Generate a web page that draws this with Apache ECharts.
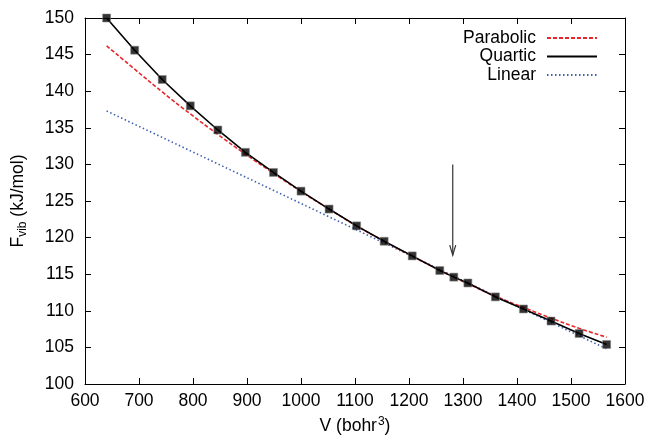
<!DOCTYPE html>
<html>
<head>
<meta charset="utf-8">
<script src="https://cdn.jsdelivr.net/npm/echarts@6/dist/echarts.min.js"></script>
<style>html,body{margin:0;padding:0;background:#fff}#c{width:650px;height:443px}</style>
</head>
<body>
<div id="c"></div>
<script>
// Data
const volumes = [640, 692, 743, 795, 846, 897, 949, 1000, 1052, 1103, 1154, 1206, 1257, 1283, 1309, 1360, 1412, 1463, 1515, 1566];
const quartic = [150.0, 145.6, 141.6, 138.0, 134.7, 131.65, 128.9, 126.35, 123.9, 121.6, 119.5, 117.5, 115.5, 114.6, 113.8, 111.9, 110.25, 108.6, 106.9, 105.4];
const parabolic = [146.2, 143.0, 139.9, 136.9, 134.1, 131.4, 128.8, 126.3, 123.9, 121.6, 119.5, 117.45, 115.55, 114.6, 113.7, 112.0, 110.45, 109.0, 107.6, 106.4];
const linearV = [640, 1566];
const linearF = [137.3, 104.8];
const arrowV = 1281;
const arrowTop = 130.0;
const arrowTip = 117.6;
const xTicks = [600, 1600, 100];
const yTicks = [100, 150, 5];

const FONT = "'Liberation Sans', Arial, Helvetica, sans-serif";
const zip = (a, b) => a.map((v, i) => [v, b[i]]);

const chart = echarts.init(document.getElementById('c'), null, {renderer: 'canvas'});
const axisCommon = {
  axisLine: {show: true, lineStyle: {color: '#000', width: 1}},
  axisTick: {show: true, inside: true, length: 6, lineStyle: {color: '#000', width: 1}},
  splitLine: {show: false}
};
function legendFor(name, top) {
  return {
    data: [name], right: 47, top: top, orient: 'horizontal', align: 'right',
    itemWidth: 50, itemHeight: 14, itemGap: 0, selectedMode: false,
    itemStyle: {opacity: 0},
    textStyle: {fontFamily: FONT, fontSize: 17.5, color: '#000', padding: [0, 6, 0, 0]}
  };
}
chart.setOption({
  animation: false,
  backgroundColor: '#fff',
  grid: {left: 85, right: 25, top: 18, bottom: 59, containLabel: false},
  legend: [legendFor('Parabolic', 24), legendFor('Quartic', 42.5), legendFor('Linear', 61)],
  xAxis: [
    Object.assign({
      type: 'value', min: xTicks[0], max: xTicks[1], interval: xTicks[2], position: 'bottom',
      name: '{n|V (bohr}{s|3}{n|)}', nameLocation: 'middle', nameGap: 32,
      nameTextStyle: {rich: {n: {fontFamily: FONT, fontSize: 17.5, color: '#000'}, s: {fontFamily: FONT, fontSize: 12, color: '#000', verticalAlign: 'top', padding: [0, 0, 8, 1]}}},
      axisLabel: {fontFamily: FONT, fontSize: 17.5, color: '#000', margin: 8, formatter: v => String(v)}
    }, axisCommon),
    Object.assign({
      type: 'value', min: xTicks[0], max: xTicks[1], interval: xTicks[2], position: 'top',
      axisLabel: {show: false}
    }, axisCommon)
  ],
  yAxis: [
    Object.assign({
      type: 'value', min: yTicks[0], max: yTicks[1], interval: yTicks[2], position: 'left',
      name: '{n|F}{s|vib}{n| (kJ/mol)}', nameLocation: 'middle', nameGap: 56, nameRotate: 90,
      nameTextStyle: {rich: {n: {fontFamily: FONT, fontSize: 17.5, color: '#000'}, s: {fontFamily: FONT, fontSize: 12, color: '#000', padding: [10, 0, 0, 0]}}},
      axisLabel: {fontFamily: FONT, fontSize: 17.5, color: '#000', margin: 11, formatter: v => String(v)}
    }, axisCommon),
    Object.assign({
      type: 'value', min: yTicks[0], max: yTicks[1], interval: yTicks[2], position: 'right',
      axisLabel: {show: false}
    }, axisCommon)
  ],
  series: [
    {
      name: 'Linear', type: 'line', data: zip(linearV, linearF), symbol: 'none',
      lineStyle: {color: '#3f5fb0', width: 1.6, type: [1.5, 2.5]}, itemStyle: {color: '#3f5fb0'}, z: 2
    },
    {
      name: 'Parabolic', type: 'line', data: zip(volumes, parabolic), symbol: 'none', smooth: true,
      lineStyle: {color: '#e8262b', width: 1.6, type: [4, 2]}, itemStyle: {color: '#e8262b'}, z: 3
    },
    {
      name: 'Quartic', type: 'line', data: zip(volumes, quartic), symbol: 'none',
      lineStyle: {color: '#000', width: 1.6}, itemStyle: {color: '#000'}, z: 4
    },
    {
      name: 'points', type: 'scatter', data: zip(volumes, quartic), symbol: 'rect', symbolSize: 8,
      itemStyle: {color: '#000', borderColor: '#888', borderWidth: 0.7}, z: 5
    },
    {
      name: 'arrow', type: 'custom', data: [[arrowV, arrowTop, arrowTip]], z: 6,
      encode: {x: 0, y: [1, 2]},
      renderItem: function (params, api) {
        const p1 = api.coord([api.value(0), api.value(1)]);
        const p2 = api.coord([api.value(0), api.value(2)]);
        const st = {stroke: '#333', lineWidth: 1.2, fill: null};
        return {
          type: 'group',
          children: [
            {type: 'line', shape: {x1: p1[0], y1: p1[1], x2: p2[0], y2: p2[1]}, style: st},
            {type: 'polyline', shape: {points: [[p2[0] - 3, p2[1] - 10], [p2[0], p2[1]], [p2[0] + 3, p2[1] - 10]]}, style: st}
          ]
        };
      }
    }
  ]
});
</script>
</body>
</html>
